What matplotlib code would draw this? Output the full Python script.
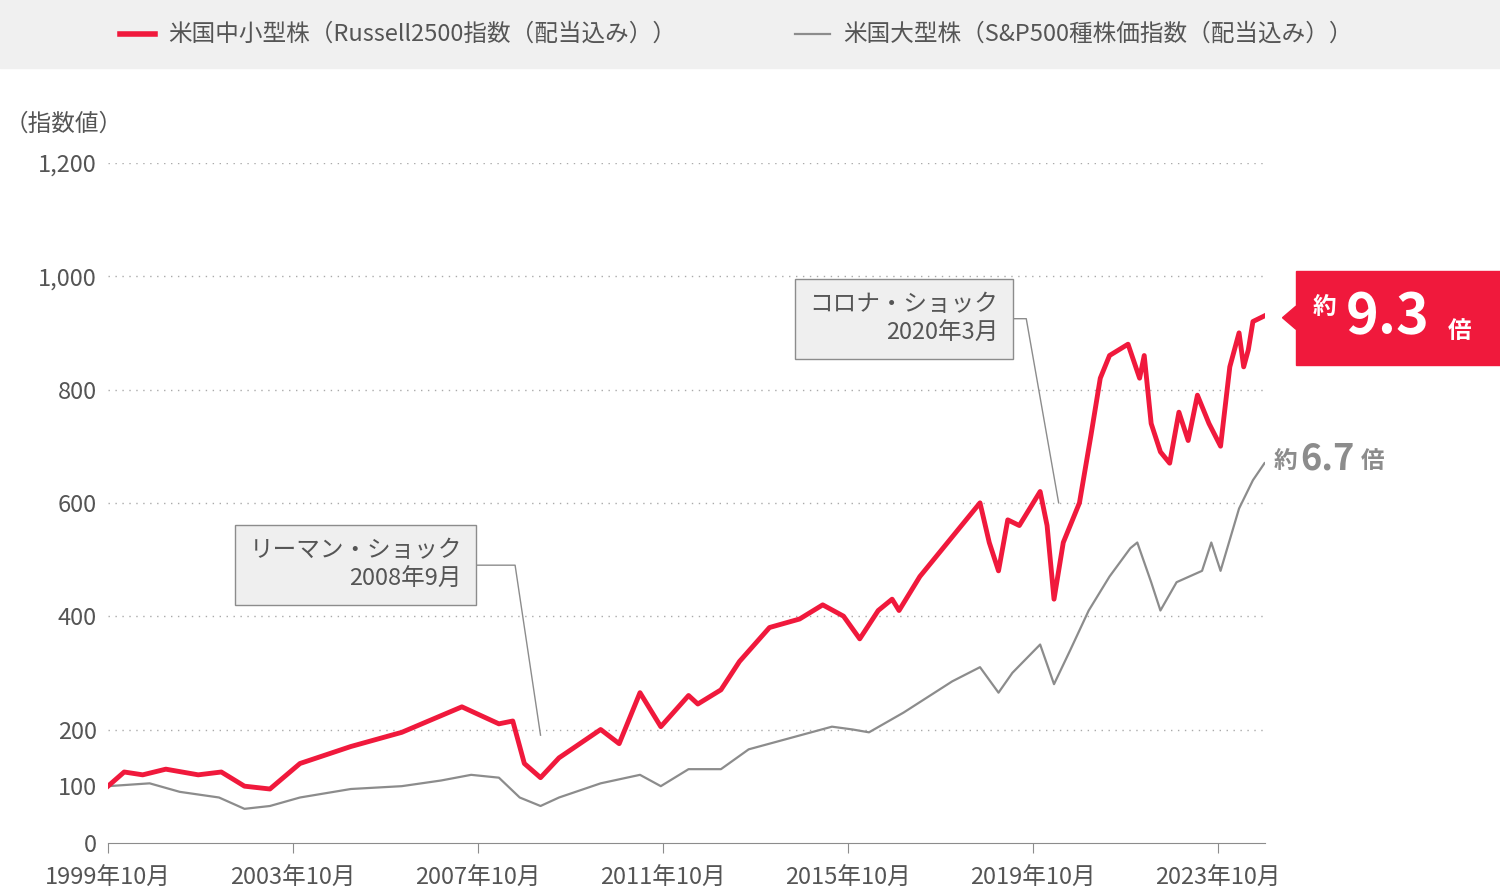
import matplotlib.pyplot as plt
from matplotlib.patches import Rectangle, Polygon

plt.rcParams["font.family"] = "Noto Sans CJK JP"

RED = "#f0193c"
GRAY = "#8c8c8c"
TXT = "#555555"

# decimal years and index values
red_years = [1999.75, 2000.1, 2000.5, 2001.0, 2001.7, 2002.2, 2002.7, 2003.25, 2003.9, 2005.0,
             2006.1, 2007.4, 2008.2, 2008.5, 2008.75, 2009.1, 2009.5, 2010.4, 2010.8, 2011.25,
             2011.7, 2012.3, 2012.5, 2013.0, 2013.4, 2014.05, 2014.7, 2015.2, 2015.65, 2016.0,
             2016.4, 2016.7, 2016.85, 2017.3, 2017.9, 2018.6, 2018.8, 2019.0, 2019.2, 2019.45,
             2019.9, 2020.05, 2020.2, 2020.4, 2020.75, 2021.0, 2021.2, 2021.4, 2021.6, 2021.8,
             2022.05, 2022.15, 2022.3, 2022.5, 2022.7, 2022.9, 2023.1, 2023.3, 2023.55, 2023.8,
             2024.0, 2024.2, 2024.3, 2024.4, 2024.5, 2024.75]
red_vals = [100, 125, 120, 130, 120, 125, 100, 95, 140, 170,
            195, 240, 210, 215, 140, 115, 150, 200, 175, 265,
            205, 260, 245, 270, 320, 380, 395, 420, 400, 360,
            410, 430, 410, 470, 530, 600, 530, 480, 570, 560,
            620, 560, 430, 530, 600, 720, 820, 860, 870, 880,
            820, 860, 740, 690, 670, 760, 710, 790, 740, 700,
            840, 900, 840, 870, 920, 930]

gray_years = [1999.75, 2000.65, 2001.3, 2002.15, 2002.7, 2003.25, 2003.9, 2005.0, 2006.1, 2006.95,
              2007.6, 2008.2, 2008.65, 2009.1, 2009.5, 2010.4, 2011.25, 2011.7, 2012.3, 2013.0,
              2013.6, 2014.5, 2015.4, 2015.85, 2016.2, 2016.95, 2018.0, 2018.6, 2019.0, 2019.3,
              2019.9, 2020.2, 2020.55, 2020.95, 2021.4, 2021.85, 2022.0, 2022.3, 2022.5, 2022.85,
              2023.4, 2023.6, 2023.8, 2024.2, 2024.5, 2024.75]
gray_vals = [100, 105, 90, 80, 60, 65, 80, 95, 100, 110,
             120, 115, 80, 65, 80, 105, 120, 100, 130, 130,
             165, 185, 205, 200, 195, 230, 285, 310, 265, 300,
             350, 280, 340, 410, 470, 520, 530, 460, 410, 460,
             480, 530, 480, 590, 640, 670]

x_ticks = [1999.75, 2003.75, 2007.75, 2011.75, 2015.75, 2019.75, 2023.75]
x_labels = ["1999年10月", "2003年10月", "2007年10月", "2011年10月", "2015年10月", "2019年10月", "2023年10月"]
y_ticks = [0, 100, 200, 400, 600, 800, 1000, 1200]

fig = plt.figure(figsize=(15, 8.9), dpi=100)
ax = fig.add_axes([0.072, 0.053, 0.771, 0.764])

ax.plot(gray_years, gray_vals, color=GRAY, lw=1.6, zorder=3)
ax.plot(red_years, red_vals, color=RED, lw=3.5, zorder=4)

ax.set_xlim(1999.75, 2024.75)
ax.set_ylim(0, 1200)
ax.set_yticks(y_ticks)
ax.set_yticklabels([f"{v:,}" for v in y_ticks])
ax.set_xticks(x_ticks)
ax.set_xticklabels(x_labels)
for v in [200, 400, 600, 800, 1000, 1200]:
    ax.axhline(v, color="#aaaaaa", lw=1, ls=(0, (1, 4)), zorder=1)
for s in ["top", "right", "left"]:
    ax.spines[s].set_visible(False)
ax.spines["bottom"].set_color(GRAY)
ax.tick_params(axis="y", length=0, labelsize=17, labelcolor=TXT, pad=8)
ax.tick_params(axis="x", length=7, color=GRAY, labelsize=17, labelcolor=TXT, pad=10)
fig.text(0.003, 0.86, "（指数値）", fontsize=17, color=TXT, va="center")

# legend band
fig.patches.append(Rectangle((0, 0.924), 1, 0.076, transform=fig.transFigure, color="#f0f0f0", zorder=0))
fig.add_artist(plt.Line2D([0.08, 0.103], [0.962, 0.962], color=RED, lw=4))
fig.text(0.112, 0.962, "米国中小型株（Russell2500指数（配当込み））", fontsize=17, color=TXT, va="center")
fig.add_artist(plt.Line2D([0.53, 0.553], [0.962, 0.962], color=GRAY, lw=1.6))
fig.text(0.562, 0.962, "米国大型株（S&P500種株価指数（配当込み））", fontsize=17, color=TXT, va="center")

# callouts
box = dict(boxstyle="square,pad=0.6", fc="#efefef", ec=GRAY, lw=1)
ax.annotate("リーマン・ショック\n2008年9月", xy=(2008.8, 190), xytext=(2007.4, 490),
            ha="right", va="center", fontsize=17, color=TXT, bbox=box, linespacing=1.3)
ax.plot([2007.45, 2008.3, 2008.55, 2009.1], [490, 490, 490, 190], color=GRAY, lw=1)
ax.annotate("コロナ・ショック\n2020年3月", xy=(2020.3, 600), xytext=(2019.0, 925),
            ha="right", va="center", fontsize=17, color=TXT, bbox=box, linespacing=1.3)
ax.plot([2019.05, 2019.6, 2020.3], [925, 925, 600], color=GRAY, lw=1)

# end labels
fig.patches.append(Rectangle((0.864, 0.59), 0.136, 0.106, transform=fig.transFigure, color=RED))
fig.patches.append(Polygon([[0.864, 0.63], [0.864, 0.656], [0.855, 0.643]], closed=True,
                           transform=fig.transFigure, color=RED))
fig.text(0.875, 0.655, "約", fontsize=17, color="white", va="center", weight="bold")
fig.text(0.897, 0.643, "9.3", fontsize=40, color="white", va="center", weight="bold")
fig.text(0.965, 0.628, "倍", fontsize=17, color="white", va="center", weight="bold")
fig.text(0.849, 0.482, "約", fontsize=17, color=GRAY, va="center", weight="bold")
fig.text(0.867, 0.484, "6.7", fontsize=26, color=GRAY, va="center", weight="bold")
fig.text(0.907, 0.482, "倍", fontsize=17, color=GRAY, va="center", weight="bold")

fig.savefig("out.png")
